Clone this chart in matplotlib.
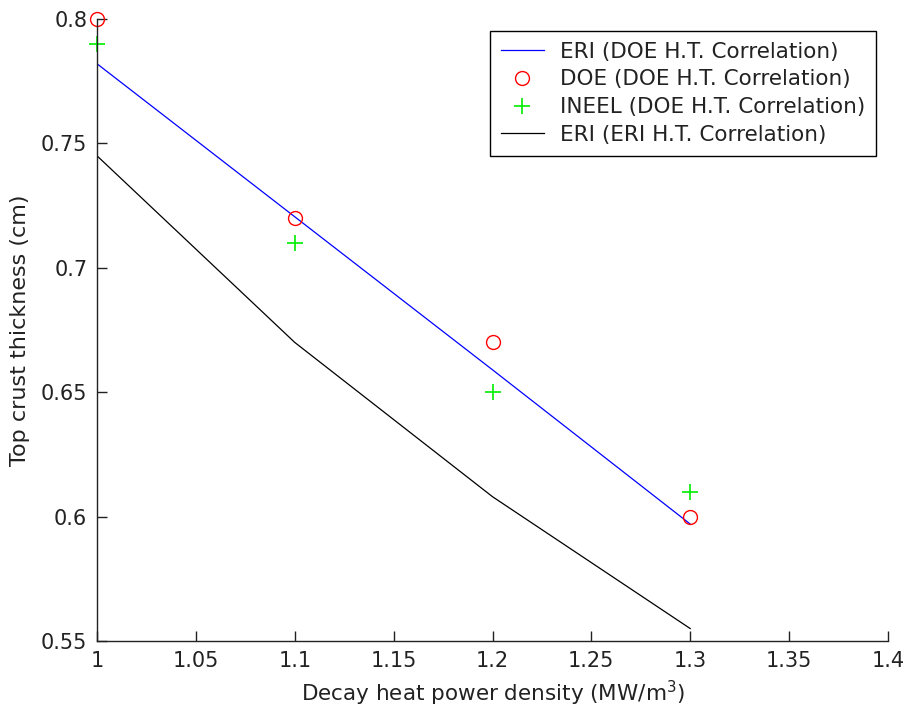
import matplotlib.pyplot as plt

plt.rcParams['font.family'] = ['DejaVu Sans']

# --- Data ---
power_density = [1.0, 1.1, 1.2, 1.3]
eri_doe = [0.782, 0.7205, 0.659, 0.597]
doe_doe = [0.80, 0.72, 0.67, 0.60]
ineel_doe = [0.79, 0.71, 0.65, 0.61]
eri_eri = [0.745, 0.670, 0.608, 0.555]

x_ticks = [1, 1.05, 1.1, 1.15, 1.2, 1.25, 1.3, 1.35, 1.4]
x_labels = ['1', '1.05', '1.1', '1.15', '1.2', '1.25', '1.3', '1.35', '1.4']
y_ticks = [0.55, 0.6, 0.65, 0.7, 0.75, 0.8]
y_labels = ['0.55', '0.6', '0.65', '0.7', '0.75', '0.8']

# --- Plot ---
fig = plt.figure(figsize=(9.07, 7.17), dpi=100)
ax = fig.add_axes([0.107, 0.106, 0.872, 0.8675])

ax.plot(power_density, eri_doe, color='#0000ff', linewidth=0.9,
        label='ERI (DOE H.T. Correlation)')
ax.plot(power_density, doe_doe, linestyle='none', marker='o', markersize=10,
        markerfacecolor='none', markeredgecolor='#ff0000', markeredgewidth=1.0,
        label='DOE (DOE H.T. Correlation)', clip_on=False)
ax.plot(power_density, ineel_doe, linestyle='none', marker='+', markersize=12,
        color='#00ee00', markeredgewidth=1.2,
        label='INEEL (DOE H.T. Correlation)', clip_on=False)
ax.plot(power_density, eri_eri, color='black', linewidth=0.9,
        label='ERI (ERI H.T. Correlation)')

ax.set_xlim(1, 1.4)
ax.set_ylim(0.55, 0.8)
ax.set_xticks(x_ticks)
ax.set_xticklabels(x_labels)
ax.set_yticks(y_ticks)
ax.set_yticklabels(y_labels)
ax.tick_params(direction='in', length=7, labelsize=15, width=1, pad=7,
               colors='#222222')
ax.spines['top'].set_visible(False)
ax.spines['right'].set_visible(False)
for s in ['left', 'bottom']:
    ax.spines[s].set_linewidth(1.0)
    ax.spines[s].set_color('#222222')

ax.set_xlabel('Decay heat power density (MW/m$^3$)', fontsize=15.5, labelpad=6,
              color='#222222')
ax.set_ylabel('Top crust thickness (cm)', fontsize=16, labelpad=8,
              color='#222222')

leg = ax.legend(loc='upper right', bbox_to_anchor=(0.966, 0.957),
                bbox_transform=fig.transFigure, fontsize=15.5,
                fancybox=False, edgecolor='black', framealpha=1,
                borderpad=0.5, labelspacing=0.36, handlelength=2.0,
                handletextpad=0.75, borderaxespad=0)
leg.get_frame().set_linewidth(1.0)
for t in leg.get_texts():
    t.set_color('#222222')

fig.savefig('out.png', dpi=100)
